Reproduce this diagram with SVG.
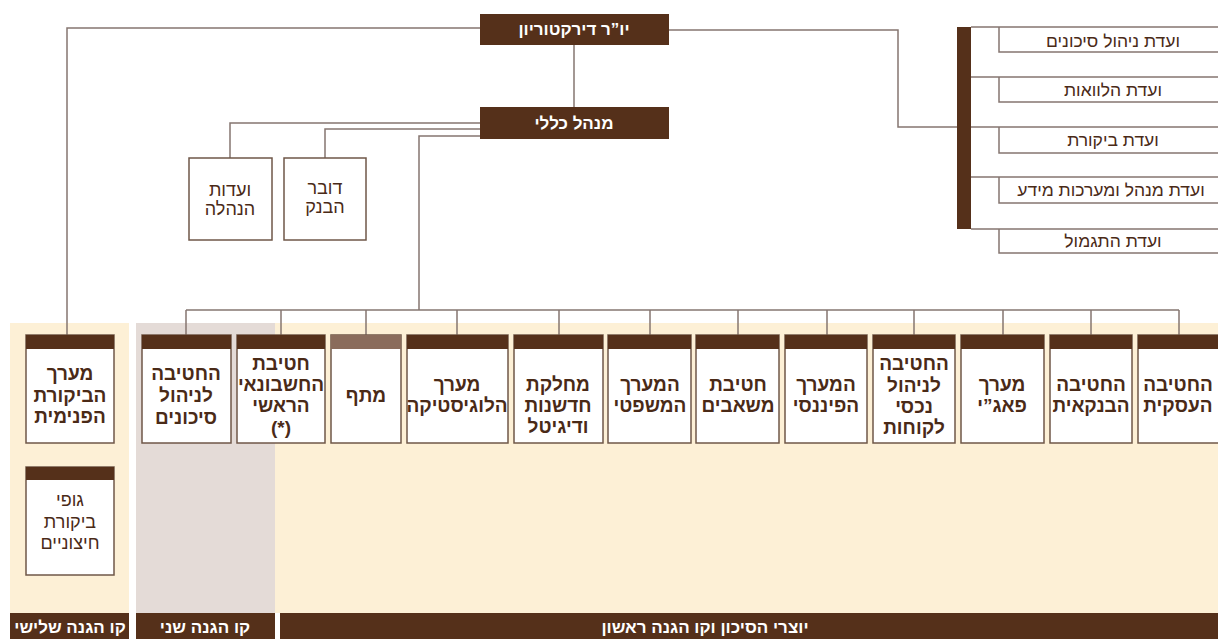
<svg xmlns="http://www.w3.org/2000/svg" width="1218" height="639" viewBox="0 0 1218 639">
<style>
.ln{fill:none;stroke:#857670;stroke-width:1.5}
.bx{fill:#fff;stroke:#6f5748;stroke-width:1.5}
.hd{fill:#55301a}
.hdl{fill:#8a6c5c}
.dk{fill:#55301a}
.t{font-family:"Liberation Sans","DejaVu Sans",sans-serif;text-anchor:middle;dominant-baseline:central;direction:rtl}
.w{fill:#fff;font-weight:bold;font-size:17px}
.b{fill:#4a2a17;font-weight:bold;font-size:19px}
.r{fill:#4a2a17;font-size:18px}
.c{fill:#4a2a17;font-size:17.5px}
</style>
<rect width="1218" height="639" fill="#fff"/>
<g id="panels">
<rect x="10" y="323" width="119" height="290" fill="#fdf0d6"/>
<rect x="136" y="323" width="139" height="290" fill="#e4dbd7"/>
<rect x="275" y="323" width="943" height="290" fill="#fdf0d6"/>
<rect x="10" y="613" width="119" height="26" class="dk"/>
<rect x="136" y="613" width="139" height="26" class="dk"/>
<rect x="280" y="613" width="938" height="26" class="dk"/>
<text class="t w" x="70" y="627">קו הגנה שלישי</text>
<text class="t w" x="205" y="627">קו הגנה שני</text>
<text class="t w" x="705" y="627">יוצרי הסיכון וקו הגנה ראשון</text>
</g>
<g id="connectors">
<polyline class="ln" points="480,28 67,28 67,335"/>
<polyline class="ln" points="669,30 898,30 898,127 957,127"/>
<line class="ln" x1="574" y1="45" x2="574" y2="107"/>
<polyline class="ln" points="480,123 230,123 230,158"/>
<polyline class="ln" points="480,129 325,129 325,158"/>
<polyline class="ln" points="480,136 419,136 419,310"/>
<line class="ln" x1="186" y1="310" x2="1179" y2="310"/>
<path class="ln" d="M186,310V335M281,310V335M366,310V335M457,310V335M559,310V335M650,310V335M738,310V335M827,310V335M914,310V335M1003,310V335M1091,310V335M1179,310V335"/>
</g>
<g id="chairman">
<rect x="480" y="14" width="189" height="31" class="dk"/>
<text class="t w" x="574" y="29">יו”ר דירקטוריון</text>
</g>
<g id="ceo">
<rect x="480" y="107" width="189" height="32" class="dk"/>
<text class="t w" x="574" y="123">מנהל כללי</text>
</g>
<g id="committees">
<rect x="957" y="27" width="14" height="202" class="dk"/>
<path class="ln" d="M971,27H1218M999,27V52H1218M971,77H1218M999,77V102H1218M971,127H1218M999,127V153H1218M971,177H1218M999,177V203H1218M971,229H1218M999,229V253H1218"/>
<text class="t c" x="1113" y="41">ועדת ניהול סיכונים</text>
<text class="t c" x="1113" y="90">ועדת הלוואות</text>
<text class="t c" x="1113" y="140">ועדת ביקורת</text>
<text class="t c" x="1111" y="190">ועדת מנהל ומערכות מידע</text>
<text class="t c" x="1113" y="241">ועדת התגמול</text>
</g>
<g id="mgmt-committees">
<rect x="189" y="158" width="83" height="82" class="bx"/>
<text class="t r" x="230" y="190">ועדות</text>
<text class="t r" x="230" y="209">הנהלה</text>
</g>
<g id="spokesman">
<rect x="284" y="158" width="82" height="82" class="bx"/>
<text class="t r" x="325" y="188">דובר</text>
<text class="t r" x="325" y="207">הבנק</text>
</g>
<g id="internal-audit">
<rect x="26" y="335" width="88" height="108" class="bx"/>
<rect x="26" y="335" width="88" height="14" class="hd"/>
<text class="t b" x="70" y="373">מערך</text>
<text class="t b" x="70" y="395">הביקורת</text>
<text class="t b" x="70" y="416">הפנימית</text>
</g>
<g id="external-audit">
<rect x="26" y="467" width="88" height="108" class="bx"/>
<rect x="26" y="467" width="88" height="13" class="hd"/>
<text class="t r" x="70" y="500" font-size="19">גופי</text>
<text class="t r" x="70" y="522" font-size="19">ביקורת</text>
<text class="t r" x="70" y="543" font-size="19">חיצוניים</text>
</g>
<g id="risk-mgmt">
<rect x="142" y="335" width="89" height="108" class="bx"/>
<rect x="142" y="335" width="89" height="14" class="hd"/>
<text class="t b" x="186" y="373">החטיבה</text>
<text class="t b" x="186" y="395">לניהול</text>
<text class="t b" x="186" y="417">סיכונים</text>
</g>
<g id="chief-accountant">
<rect x="237" y="335" width="88" height="108" class="bx"/>
<rect x="237" y="335" width="88" height="14" class="hd"/>
<text class="t b" x="281" y="363">חטיבת</text>
<text class="t b" x="281" y="384" font-size="18.5">החשבונאי</text>
<text class="t b" x="281" y="405">הראשי</text>
<text class="t b" x="281" y="427">(*)</text>
</g>
<g id="mataf">
<rect x="331" y="335" width="70" height="108" class="bx"/>
<rect x="331" y="335" width="70" height="14" class="hdl"/>
<text class="t b" x="366" y="395">מתף</text>
</g>
<g id="logistics">
<rect x="407" y="335" width="101" height="108" class="bx"/>
<rect x="407" y="335" width="101" height="14" class="hd"/>
<text class="t b" x="457" y="384">מערך</text>
<text class="t b" x="457" y="405" font-size="18.5">הלוגיסטיקה</text>
</g>
<g id="innovation">
<rect x="514" y="335" width="89" height="108" class="bx"/>
<rect x="514" y="335" width="89" height="14" class="hd"/>
<text class="t b" x="558" y="384">מחלקת</text>
<text class="t b" x="558" y="405">חדשנות</text>
<text class="t b" x="558" y="426">ודיגיטל</text>
</g>
<g id="legal">
<rect x="608" y="335" width="83" height="108" class="bx"/>
<rect x="608" y="335" width="83" height="14" class="hd"/>
<text class="t b" x="650" y="384">המערך</text>
<text class="t b" x="650" y="405">המשפטי</text>
</g>
<g id="resources">
<rect x="696" y="335" width="83" height="108" class="bx"/>
<rect x="696" y="335" width="83" height="14" class="hd"/>
<text class="t b" x="738" y="384">חטיבת</text>
<text class="t b" x="738" y="405">משאבים</text>
</g>
<g id="finance">
<rect x="785" y="335" width="82" height="108" class="bx"/>
<rect x="785" y="335" width="82" height="14" class="hd"/>
<text class="t b" x="826" y="384">המערך</text>
<text class="t b" x="826" y="405">הפיננסי</text>
</g>
<g id="client-assets">
<rect x="873" y="335" width="82" height="108" class="bx"/>
<rect x="873" y="335" width="82" height="14" class="hd"/>
<text class="t b" x="914" y="363">החטיבה</text>
<text class="t b" x="914" y="385">לניהול</text>
<text class="t b" x="914" y="406">נכסי</text>
<text class="t b" x="914" y="427">לקוחות</text>
</g>
<g id="pagi">
<rect x="961" y="335" width="83" height="108" class="bx"/>
<rect x="961" y="335" width="83" height="14" class="hd"/>
<text class="t b" x="1002" y="384">מערך</text>
<text class="t b" x="1002" y="405">פאג”י</text>
</g>
<g id="banking">
<rect x="1050" y="335" width="82" height="108" class="bx"/>
<rect x="1050" y="335" width="82" height="14" class="hd"/>
<text class="t b" x="1091" y="384">החטיבה</text>
<text class="t b" x="1091" y="405">הבנקאית</text>
</g>
<g id="business">
<rect x="1138" y="335" width="84" height="108" class="bx"/>
<rect x="1138" y="335" width="84" height="14" class="hd"/>
<text class="t b" x="1178" y="384">החטיבה</text>
<text class="t b" x="1178" y="405">העסקית</text>
</g>
</svg>
